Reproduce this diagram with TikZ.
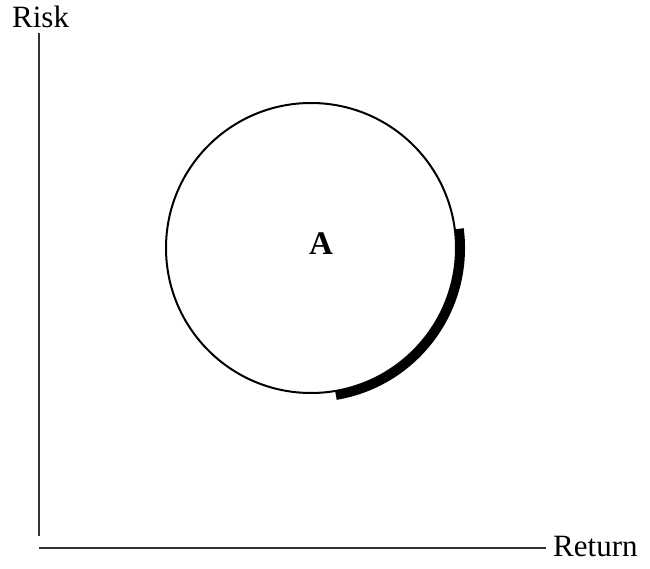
\documentclass[tikz,border=0pt]{standalone}
\usepackage{fontspec}
\setmainfont{Liberation Serif}
\begin{document}
\begin{tikzpicture}[x=1pt,y=-1pt,
  axis/.style={line width=1.3pt,black!80},
  lbl/.style={inner sep=0pt,anchor=base west,font=\fontsize{31}{36}\selectfont},
  ring/.style={line width=2pt},
  band/.style={line width=9pt,line cap=butt}]
\path[use as bounding box] (0,0) rectangle (650,569);
\coordinate (top) at (39,33);
\coordinate (origin) at (39,548);
\coordinate (right) at (546,548);
\coordinate (c) at (311,248);
\draw[axis] (top) -- (origin |- 0,536);
\draw[axis] (origin) -- (right);
\node[lbl] (risk) at (12,28) {Risk};
\node[lbl] (ret) at (553,556) {Return};
\draw[ring] (c) circle[radius=145];
\node[font=\fontsize{33}{38}\selectfont\bfseries,inner sep=0pt] (a) at (321,244) {A};
\draw[band] (c) ++(-7.4:149.5) arc[start angle=-7.4,end angle=80.4,radius=149.5];
\end{tikzpicture}
\end{document}
